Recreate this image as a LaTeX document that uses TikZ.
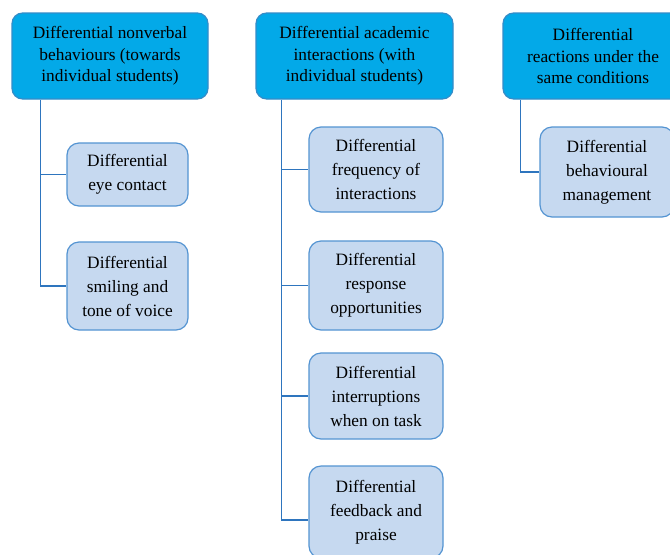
\documentclass[tikz,border=0pt]{standalone}
\usepackage{fontspec}
\setmainfont{Liberation Serif}
\usepackage{xcolor}
\usetikzlibrary{calc,positioning}
\definecolor{topblue}{RGB}{3,169,232}
\definecolor{topedge}{RGB}{52,140,200}
\definecolor{subblue}{RGB}{198,217,240}
\definecolor{subedge}{RGB}{84,148,210}
\definecolor{linkblue}{RGB}{46,117,190}
\tikzset{
  headbox/.style={draw=topedge, line width=0.9pt, fill=topblue, rounded corners=8pt,
    align=center, inner sep=2pt, font=\fontsize{13}{16}\selectfont},
  itembox/.style={draw=subedge, line width=0.9pt, fill=subblue, rounded corners=9pt,
    align=center, inner sep=2pt, font=\fontsize{13}{18}\selectfont},
  link/.style={draw=linkblue, line width=0.8pt}
}
\begin{document}
\begin{tikzpicture}[x=0.75pt,y=-0.75pt]
  \useasboundingbox[fill=white] (0,0) rectangle (670,554);
  % the three groups
  \node[headbox, minimum width=147pt, minimum height=64.5pt] (T1) at (110,56)
    {Differential nonverbal\\behaviours (towards\\individual students)};
  \node[headbox, minimum width=147.75pt, minimum height=64.5pt] (T2) at (354.5,56)
    {Differential academic\\interactions (with\\individual students)};
  \node[headbox, minimum width=135pt, minimum height=64.5pt] (T3) at (593,56)
    {Differential\\reactions under the\\same conditions};
  % items under each group
  \node[itembox, minimum width=90.75pt, minimum height=47.25pt] (A1) at (127.5,174.5)
    {Differential\\eye contact};
  \node[itembox, minimum width=90.75pt, minimum height=66pt] (A2) at (127.5,286)
    {Differential\\smiling and\\tone of voice};
  \node[itembox, minimum width=100.5pt, minimum height=63.75pt] (B1) at (376,169.5)
    {Differential\\frequency of\\interactions};
  \node[itembox, minimum width=100.5pt, minimum height=66.75pt] (B2) at (376,285.5)
    {Differential\\response\\opportunities};
  \node[itembox, minimum width=100.5pt, minimum height=64.5pt] (B3) at (376,396)
    {Differential\\interruptions\\when on task};
  \node[itembox, minimum width=100.5pt, minimum height=69pt] (B4) at (376,512)
    {Differential\\feedback and\\praise};
  \node[itembox, minimum width=100.5pt, minimum height=67.5pt] (C1) at (607,172)
    {Differential\\behavioural\\management};
  % connectors
  \coordinate (t1) at ($(T1.south west)+(29,0)$);
  \coordinate (t2) at ($(T2.south west)+(26,0)$);
  \coordinate (t3) at ($(T3.south west)+(18,0)$);
  \coordinate (b4) at ([yshift=-6pt]B4.west);
  \draw[link] (t1) |- (A2.west);
  \draw[link] (t1 |- A1.west) -- (A1.west);
  \draw[link] (t2) |- (b4);
  \foreach \item in {B1,B2,B3}{
    \draw[link] (t2 |- \item.west) -- (\item.west);
  }
  \draw[link] (t3) |- (C1.west);
\end{tikzpicture}
\end{document}
